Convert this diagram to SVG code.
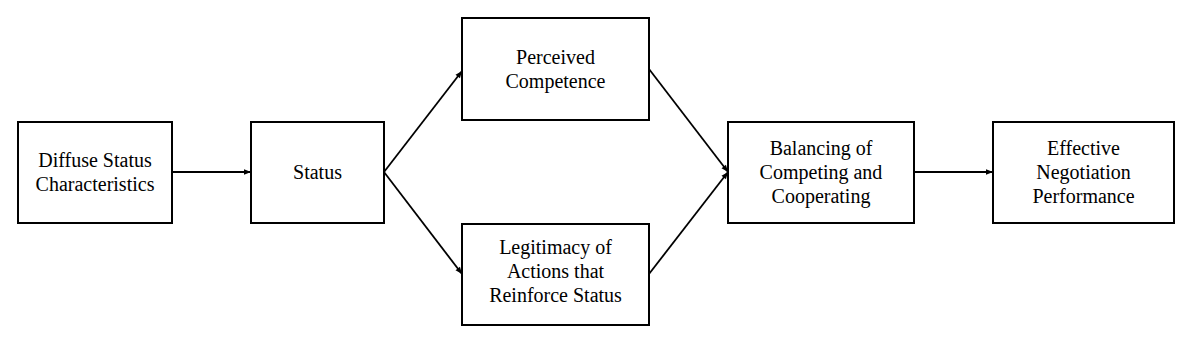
<svg xmlns="http://www.w3.org/2000/svg" width="1200" height="342" viewBox="0 0 1200 342">
<style>
.box{fill:#fff;stroke:#000;stroke-width:2}
text{font-family:'Liberation Serif','Times New Roman',Times,serif;font-size:20px;fill:#000;text-anchor:middle}
.c{stroke:#000;stroke-width:1.8;fill:none;marker-end:url(#ah)}
</style>
<defs>
<marker id="ah" viewBox="0 0 10 10" refX="10" refY="5" markerWidth="8" markerHeight="7" markerUnits="userSpaceOnUse" orient="auto"><path d="M0,1 L10,5 L0,9 z" fill="#000"/></marker>
</defs>
<rect width="1200" height="342" fill="#fff"/>
<g id="connectors">
<line class="c" x1="172" y1="172" x2="251" y2="172"/>
<line class="c" x1="384" y1="172" x2="462" y2="71"/>
<line class="c" x1="384" y1="172" x2="462" y2="274"/>
<line class="c" x1="649" y1="69" x2="728" y2="172"/>
<line class="c" x1="649" y1="274" x2="728" y2="172"/>
<line class="c" x1="914" y1="172" x2="993" y2="172"/>
</g>
<g id="diffuse"><rect class="box" x="18" y="122" width="154" height="101"/>
<text x="95" y="167" font-family="Liberation Serif, serif">Diffuse Status</text><text x="95" y="191" font-family="Liberation Serif, serif">Characteristics</text></g>
<g id="status"><rect class="box" x="251" y="122" width="133" height="101"/>
<text x="317.5" y="179" font-family="Liberation Serif, serif">Status</text></g>
<g id="perceived"><rect class="box" x="462" y="18" width="187" height="102"/>
<text x="555.5" y="64" font-family="Liberation Serif, serif">Perceived</text><text x="555.5" y="88" font-family="Liberation Serif, serif">Competence</text></g>
<g id="legitimacy"><rect class="box" x="462" y="224" width="187" height="101"/>
<text x="555.5" y="254" font-family="Liberation Serif, serif">Legitimacy of</text><text x="555.5" y="278" font-family="Liberation Serif, serif">Actions that</text><text x="555.5" y="302" font-family="Liberation Serif, serif">Reinforce Status</text></g>
<g id="balancing"><rect class="box" x="728" y="122" width="186" height="101"/>
<text x="821" y="155" font-family="Liberation Serif, serif">Balancing of</text><text x="821" y="179" font-family="Liberation Serif, serif">Competing and</text><text x="821" y="203" font-family="Liberation Serif, serif">Cooperating</text></g>
<g id="effective"><rect class="box" x="993" y="122" width="181" height="101"/>
<text x="1083.5" y="155" font-family="Liberation Serif, serif">Effective</text><text x="1083.5" y="179" font-family="Liberation Serif, serif">Negotiation</text><text x="1083.5" y="203" font-family="Liberation Serif, serif">Performance</text></g>
</svg>
